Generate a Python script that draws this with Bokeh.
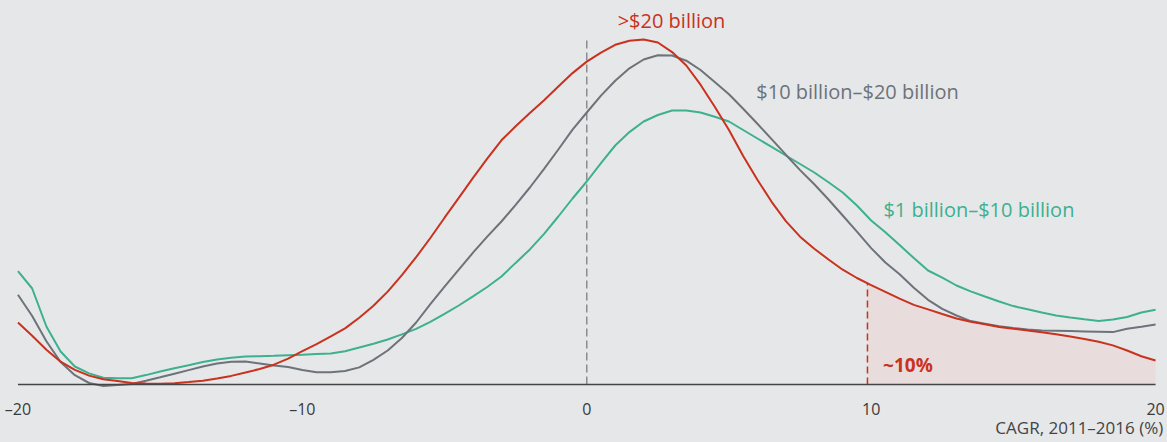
from bokeh.plotting import figure
from bokeh.models import Range1d
from bokeh.core.properties import value
from bokeh.embed import file_html
from bokeh.resources import INLINE
import numpy as np

# CAGR 2011-2016 (%) sample grid, every half point from -20 to 20
cagr = [i / 2 for i in range(-40, 41)]

# density curves by company size
small = [1.133, 0.96, 0.58, 0.33, 0.18, 0.111, 0.067, 0.063, 0.063, 0.094,
         0.13, 0.163, 0.193, 0.224, 0.25, 0.267, 0.28, 0.283, 0.287, 0.293,
         0.297, 0.305, 0.31, 0.333, 0.37, 0.408, 0.45, 0.501, 0.556, 0.627,
         0.706, 0.79, 0.882, 0.975, 1.08, 1.216, 1.351, 1.506, 1.68, 1.86,
         2.03, 2.213, 2.39, 2.524, 2.63, 2.695, 2.74, 2.74, 2.72, 2.677,
         2.63, 2.545, 2.46, 2.376, 2.29, 2.205, 2.12, 2.022, 1.92, 1.79,
         1.64, 1.522, 1.394, 1.264, 1.14, 1.069, 0.99, 0.931, 0.88, 0.83,
         0.784, 0.752, 0.72, 0.69, 0.67, 0.652, 0.635, 0.649, 0.675, 0.72, 0.747]
mid = [0.897, 0.685, 0.433, 0.225, 0.093, 0.015, -0.015, -0.006, 0.005, 0.038,
       0.072, 0.108, 0.144, 0.18, 0.21, 0.227, 0.23, 0.211, 0.19, 0.175,
       0.146, 0.123, 0.123, 0.135, 0.171, 0.246, 0.34, 0.465, 0.62, 0.804,
       0.978, 1.149, 1.318, 1.479, 1.63, 1.796, 1.97, 2.156, 2.35, 2.549,
       2.72, 2.889, 3.037, 3.162, 3.25, 3.293, 3.29, 3.238, 3.145, 3.024,
       2.903, 2.757, 2.607, 2.454, 2.298, 2.144, 2.002, 1.85, 1.69, 1.528,
       1.364, 1.22, 1.102, 0.968, 0.847, 0.757, 0.69, 0.634, 0.608, 0.582,
       0.564, 0.55, 0.539, 0.537, 0.534, 0.531, 0.528, 0.524, 0.557, 0.578, 0.60]
large = [0.62, 0.488, 0.348, 0.228, 0.146, 0.089, 0.053, 0.034, 0.015, 0.011,
         0.008, 0.013, 0.024, 0.037, 0.061, 0.086, 0.12, 0.155, 0.198, 0.259,
         0.333, 0.404, 0.482, 0.561, 0.668, 0.787, 0.929, 1.094, 1.273, 1.465,
         1.668, 1.866, 2.067, 2.259, 2.442, 2.583, 2.714, 2.843, 2.98, 3.114,
         3.229, 3.318, 3.397, 3.438, 3.451, 3.42, 3.324, 3.19, 2.998, 2.777,
         2.545, 2.284, 2.047, 1.827, 1.634, 1.478, 1.358, 1.25, 1.148, 1.065,
         0.994, 0.926, 0.858, 0.796, 0.751, 0.705, 0.66, 0.628, 0.602, 0.576,
         0.557, 0.54, 0.522, 0.503, 0.48, 0.456, 0.427, 0.391, 0.34, 0.283, 0.24]

series_names = ["$1 billion\u2013$10 billion", "$10 billion\u2013$20 billion", ">$20 billion"]
tick_values = [-20, -10, 0, 10, 20]
tick_labels = ["\u201320", "\u201310", "0", "10", "20"]
threshold = 9.87
threshold_label = "~10%"
axis_title = "CAGR, 2011\u20132016 (%)"

BG = "#e6e7e8"
RED = "#c8321e"
GREY = "#6c737a"
GREEN = "#3db08f"
FONT = "Open Sans"

p = figure(width=1167, height=442, output_backend="svg", toolbar_location=None,
           x_range=Range1d(-20.614, 20.420), y_range=Range1d(-0.58, 3.84),
           x_axis_location=None, y_axis_location=None,
           min_border_left=0, min_border_right=0, min_border_top=0, min_border_bottom=0)
p.background_fill_color = BG
p.border_fill_color = BG
p.outline_line_color = None
p.grid.visible = False

# shaded tail above threshold
tail_x = [threshold] + [c for c in cagr if c > threshold]
tail_y = list(np.interp(tail_x, cagr, large))
p.varea(x=tail_x, y1=[0] * len(tail_x), y2=tail_y, fill_color="#e8dddc")

# zero line
p.segment(x0=[0], y0=[0], x1=[0], y1=[3.45], line_color="#8a8d90", line_width=1.5, line_dash="8 4")
# threshold dashed line
p.segment(x0=[threshold], y0=[0], x1=[threshold], y1=[float(np.interp(threshold, cagr, large))],
          line_color=RED, line_width=1.5, line_dash="7 4")

p.line(cagr, small, line_color=GREEN, line_width=2)
p.line(cagr, mid, line_color=GREY, line_width=2)
p.line(cagr, large, line_color=RED, line_width=2)

# baseline (x axis line)
p.segment(x0=[-20], y0=[0], x1=[20], y1=[0], line_color="#444444", line_width=1.5)

# tick labels
p.text(x=tick_values, y=[-0.247] * len(tick_values), text=tick_labels, text_font=value(FONT),
       text_font_size="16px", text_color="#3a3a3a", text_align="center", text_baseline="alphabetic")
# axis title
p.text(x=[20.27], y=[-0.43], text=[axis_title], text_font=value(FONT), text_font_size="17px",
       text_color="#444444", text_align="right", text_baseline="alphabetic")

# series labels
p.text(x=[2.98], y=[3.64], text=[series_names[2]], text_font=value(FONT), text_font_size="20px",
       text_color=RED, text_align="center", text_baseline="alphabetic")
p.text(x=[5.96], y=[2.93], text=[series_names[1]], text_font=value(FONT), text_font_size="20px",
       text_color=GREY, text_align="left", text_baseline="alphabetic")
p.text(x=[10.43], y=[1.75], text=[series_names[0]], text_font=value(FONT), text_font_size="20px",
       text_color=GREEN, text_align="left", text_baseline="alphabetic")
p.text(x=[10.42], y=[0.197], text=[threshold_label], text_font=value(FONT), text_font_size="19px",
       text_font_style="bold", text_color=RED, text_align="left", text_baseline="alphabetic")

html = file_html(p, INLINE)
html = html.replace("<head>", "<head><style>html,body{background:#e6e7e8;}</style>", 1)
open("out.html", "w").write(html)
